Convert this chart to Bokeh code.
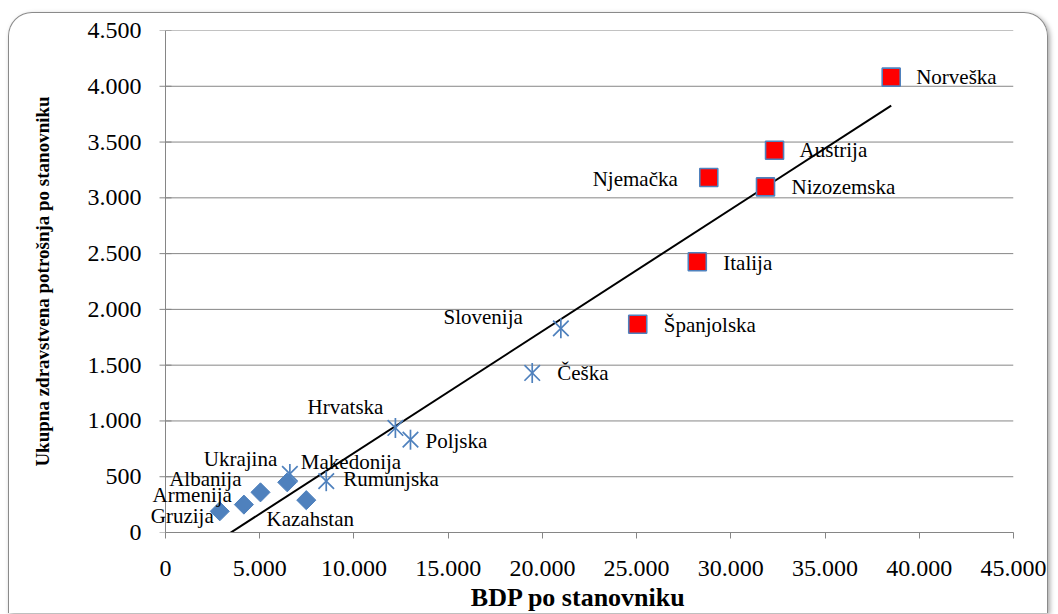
import math
from bokeh.plotting import figure
from bokeh.models import ColumnDataSource, Label, Range1d, FixedTicker
from bokeh.embed import file_html
from bokeh.resources import INLINE

# ---- data ----
diamond_countries = ["Gruzija", "Armenija", "Albanija", "Ukrajina", "Kazahstan"]
diamond_gdp = [2880, 4160, 5040, 6460, 7470]
diamond_health = [190, 250, 360, 450, 290]

star_countries = ["Makedonija", "Rumunjska", "Hrvatska", "Poljska", "Češka", "Slovenija"]
star_gdp = [6600, 8530, 12200, 13000, 19460, 20980]
star_health = [525, 460, 937, 832, 1430, 1830]

square_countries = ["Španjolska", "Italija", "Njemačka", "Nizozemska", "Austrija", "Norveška"]
square_gdp = [25060, 28220, 28830, 31840, 32320, 38510]
square_health = [1867, 2427, 3182, 3098, 3426, 4082]

trend_slope = 0.1092
trend_intercept = -379

x_ticks = [0, 5000, 10000, 15000, 20000, 25000, 30000, 35000, 40000, 45000]
x_tick_labels = ["0", "5.000", "10.000", "15.000", "20.000", "25.000",
                 "30.000", "35.000", "40.000", "45.000"]
y_ticks = [0, 500, 1000, 1500, 2000, 2500, 3000, 3500, 4000, 4500]
y_tick_labels = ["0", "500", "1.000", "1.500", "2.000", "2.500",
                 "3.000", "3.500", "4.000", "4.500"]

x_title = "BDP po stanovniku"
y_title = "Ukupna zdravstvena potrošnja po stanovniku"

# ---- label placement (screen px: dx right, dy down, alignment) ----
label_style = {
    "Gruzija": (-6, 5, "right"),
    "Armenija": (-12, -10, "right"),
    "Albanija": (-19, -13, "right"),
    "Ukrajina": (-10, -23, "right"),
    "Kazahstan": (4, 19, "center"),
    "Makedonija": (11, -12, "left"),
    "Rumunjska": (17, -2, "left"),
    "Hrvatska": (-12, -21, "right"),
    "Poljska": (15, 1, "left"),
    "Češka": (25, 0, "left"),
    "Slovenija": (-38, -11, "right"),
    "Španjolska": (26, 1, "left"),
    "Italija": (26, 1, "left"),
    "Njemačka": (-31, 1, "right"),
    "Nizozemska": (26, 0, "left"),
    "Austrija": (25, 0, "left"),
    "Norveška": (25, 0, "left"),
}

BLUE = "#4F81BD"
GRID = "#868686"
SERIF = "Liberation Serif"

# Layout: the drawing area reaches LEFT_PAD px left of the value axis so that
# the labels of the leftmost points are not cut off.
FRAME_W = 848        # px from x=0 to x=45000
LEFT_PAD = 22        # extra px left of the y axis
BORDER_LEFT = 156 - LEFT_PAD
x_start = x_ticks[0] - LEFT_PAD * (x_ticks[-1] - x_ticks[0]) / FRAME_W

p = figure(width=1040, height=601,
           x_range=Range1d(x_start, x_ticks[-1]), y_range=Range1d(y_ticks[0], y_ticks[-1]),
           output_backend="svg", toolbar_location=None,
           min_border_left=BORDER_LEFT, min_border_right=36,
           min_border_top=17, min_border_bottom=81)
p.styles = {"margin-top": "12px", "margin-left": "8px", "margin-bottom": "-20px",
            "border": "1.5px solid #8a8a8a", "border-bottom": "none",
            "border-radius": "24px 24px 0 0",
            "box-shadow": "2px 2px 5px rgba(0,0,0,0.35)"}
p.border_fill_color = None
p.background_fill_color = "white"
p.outline_line_color = None

# axes
for ax in (p.xaxis[0], p.yaxis[0]):
    ax.axis_line_color = GRID
    ax.axis_line_width = 1
    ax.major_tick_line_color = GRID
    ax.major_tick_out = 6
    ax.major_tick_in = 0
    ax.minor_tick_line_color = None
    ax.major_label_text_font = SERIF
    ax.major_label_text_font_size = "24px"
    ax.major_label_text_color = "black"
    ax.axis_label_text_font = SERIF
    ax.axis_label_text_font_style = "bold"
    ax.axis_label_text_color = "black"

p.xaxis.ticker = FixedTicker(ticks=x_ticks)
p.xaxis.major_label_overrides = dict(zip(x_ticks, x_tick_labels))
p.xaxis.bounds = (x_ticks[0], x_ticks[-1])
p.xaxis.axis_label = x_title
p.xaxis.axis_label_text_font_size = "26px"
p.xaxis.major_label_standoff = 22
p.xaxis.axis_label_standoff = 4

# y axis: labels and title from the axis; its line and ticks drawn at x = 0
p.yaxis.ticker = FixedTicker(ticks=y_ticks)
p.yaxis.major_label_overrides = dict(zip(y_ticks, y_tick_labels))
p.yaxis.axis_label = y_title
p.yaxis.axis_label_text_font_size = "19px"
p.yaxis.axis_line_color = None
p.yaxis.major_tick_line_color = None
p.yaxis.major_tick_out = 0
p.yaxis.major_label_standoff = 2
p.yaxis.axis_label_standoff = 32

# horizontal grid lines, only across the value range
p.xgrid.grid_line_color = None
p.ygrid.grid_line_color = None
n_y = len(y_ticks)
p.segment(x0=[x_ticks[0]] * n_y, x1=[x_ticks[-1]] * n_y,
          y0=y_ticks, y1=y_ticks, line_color=GRID, line_width=1, level="underlay")
p.segment(x0=[x_ticks[0]], x1=[x_ticks[0]], y0=[y_ticks[0]], y1=[y_ticks[-1]],
          line_color=GRID, line_width=1, level="underlay")
p.scatter(x=[x_ticks[0]] * n_y, y=y_ticks, marker="dash", size=12,
          line_color=GRID, line_width=1, level="underlay")

# trend line
all_gdp = diamond_gdp + star_gdp + square_gdp
tx = [min(all_gdp), max(all_gdp)]
ty = [trend_slope * v + trend_intercept for v in tx]
p.line(tx, ty, line_color="black", line_width=2)

# series
src_d = ColumnDataSource(dict(x=diamond_gdp, y=diamond_health))
p.scatter("x", "y", source=src_d, marker="square", size=13.5, angle=math.pi / 4,
          fill_color=BLUE, line_color=BLUE, line_width=1)

src_s = ColumnDataSource(dict(x=star_gdp, y=star_health))
p.scatter("x", "y", source=src_s, marker="x", size=22, line_color=BLUE, line_width=1.7)
p.scatter("x", "y", source=src_s, marker="dash", size=20, angle=math.pi / 2,
          line_color=BLUE, line_width=1.7)

src_q = ColumnDataSource(dict(x=square_gdp, y=square_health))
p.scatter("x", "y", source=src_q, marker="square", size=18,
          fill_color="#FF0000", line_color=BLUE, line_width=1.6)

# labels
names = diamond_countries + star_countries + square_countries
lx = diamond_gdp + star_gdp + square_gdp
ly = diamond_health + star_health + square_health
for n, xv, yv in zip(names, lx, ly):
    dx, dy, al = label_style[n]
    p.add_layout(Label(x=xv, y=yv, text=n, x_offset=dx, y_offset=-dy,
                       text_align=al, text_baseline="middle",
                       text_font=SERIF, text_font_size="21px", text_color="black"))

open("out.html", "w").write(file_html(p, INLINE))
